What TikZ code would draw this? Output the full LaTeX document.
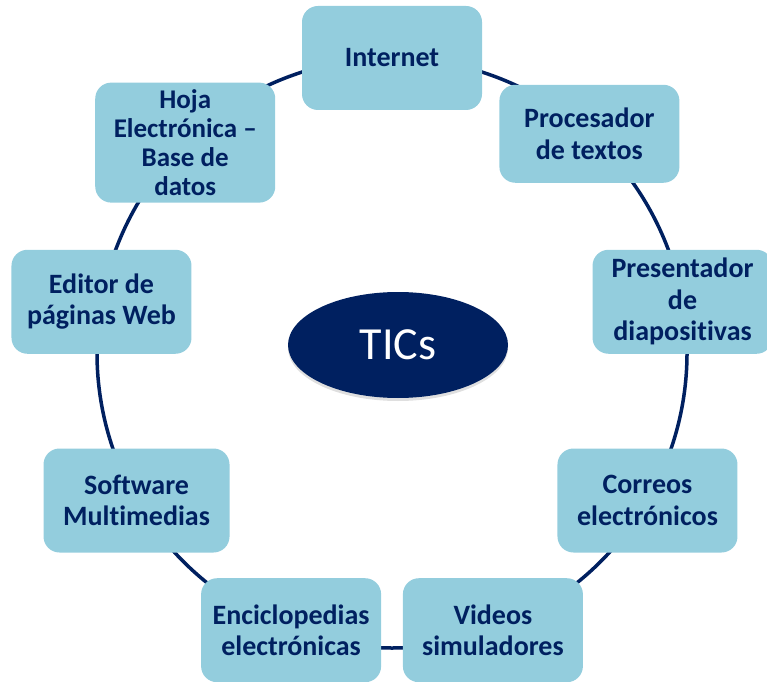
\documentclass[tikz,border=0pt]{standalone}
\usepackage{fontspec}
\setmainfont{Carlito}[Ligatures=NoCommon]
\usetikzlibrary{shapes.geometric,backgrounds,shadows,calc}
\definecolor{boxfill}{RGB}{147,205,221}
\definecolor{navy}{RGB}{0,32,96}
\begin{document}
\begin{tikzpicture}[x=1pt,y=1pt,
  tbox/.style={rectangle, rounded corners=16pt, fill=boxfill, text=navy,
    font=\fontsize{28}{31.5}\selectfont\bfseries, align=center,
    minimum width=180pt, minimum height=104pt, inner sep=0pt},
  ring/.style={draw=navy, line width=3.5pt},
  hub/.style={ellipse, fill=navy, text=white, font=\fontsize{46}{50}\selectfont,
    minimum width=220pt, minimum height=106pt, inner sep=0pt,
    drop shadow={opacity=0.25, shadow xshift=0pt, shadow yshift=-3pt}}]
\useasboundingbox (0,0) rectangle (767,681);
\clip (0,0) rectangle (767,681);
\coordinate (ctr) at (392,328);
\node[tbox] (internet) at ($(ctr)+(90:295)$) {Internet};
\node[tbox, minimum height=98pt] (proc) at ($(ctr)+(48:295)$) {Procesador\\de textos};
\node[tbox] (pres) at ($(ctr)+(10:295)$) {Presentador\\de\\diapositivas};
\node[tbox] (correo) at ($(ctr)+(-30:295)$) {Correos\\electrónicos};
\node[tbox] (video) at ($(ctr)+(-70:295)$) {Videos\\simuladores};
\node[tbox] (encic) at ($(ctr)+(-110:295)$) {Enciclopedias\\electrónicas};
\node[tbox, minimum width=186pt] (soft) at ($(ctr)+(-150:295)$) {Software\\Multimedias};
\node[tbox] (editor) at ($(ctr)+(170:295)$) {Editor de\\páginas Web};
\node[tbox, minimum height=120pt, font=\fontsize{27}{29}\selectfont\bfseries] (hoja) at ($(ctr)+(134.5:295)$) {Hoja\\Electrónica –\\Base de\\datos};
\node[hub] (tics) at (398,336) {TICs};
\begin{pgfonlayer}{background}
\draw[ring] (internet.center) arc[start angle=90, end angle=48, radius=295];
\draw[ring] (proc.center) arc[start angle=48, end angle=10, radius=295];
\draw[ring] (pres.center) arc[start angle=10, end angle=-30, radius=295];
\draw[ring] (correo.center) arc[start angle=-30, end angle=-70, radius=295];
\draw[ring] (video.center) arc[start angle=-70, end angle=-110, radius=295];
\draw[ring] (encic.center) arc[start angle=-110, end angle=-150, radius=295];
\draw[ring] (soft.center) arc[start angle=-150, end angle=-190, radius=295];
\draw[ring] (editor.center) arc[start angle=170, end angle=134.5, radius=295];
\draw[ring] (hoja.center) arc[start angle=134.5, end angle=90, radius=295];
\end{pgfonlayer}
\end{tikzpicture}
\end{document}
